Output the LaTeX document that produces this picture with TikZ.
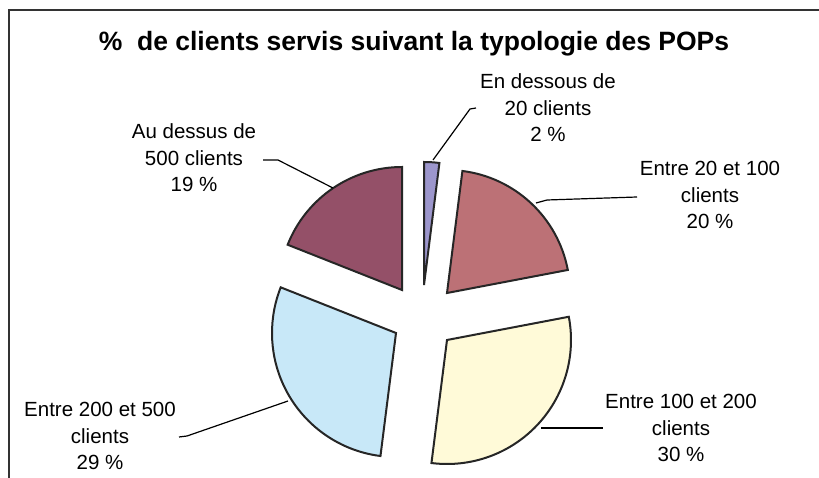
\documentclass[tikz,border=0pt]{standalone}
\usepackage{fontspec}
\setmainfont{Liberation Sans}
\definecolor{cplum}{HTML}{945068}
\definecolor{crose}{HTML}{BC7176}
\definecolor{clav}{HTML}{9C96CC}
\definecolor{cyel}{HTML}{FFFAD8}
\definecolor{csky}{HTML}{C8E8F8}
\tikzset{
  slice/.style={draw=black!85, line width=2pt, line join=miter},
  leader/.style={draw=black, line width=1.2pt},
  lab/.style={align=center, inner sep=0pt, font=\fontsize{20.5}{26.5}\selectfont},
  ttl/.style={inner sep=0pt, font=\fontsize{26.5}{30}\selectfont\bfseries},
  frame/.style={draw=black!80, line width=2.2pt}
}
\begin{document}
\begin{tikzpicture}[x=1pt,y=-1pt]
\useasboundingbox (0,0) rectangle (819,478);
\clip (0,0) rectangle (819,478);
\fill[white] (0,0) rectangle (819,478);
\draw[frame] (9,10) rectangle (840,500);
\node[ttl] (title) at (414,44) {\%\ \ de clients servis suivant la typologie des POPs};
% slices (angles clockwise from east on screen)
\coordinate (a2) at (424,285);
\coordinate (a20) at (447,293);
\coordinate (a30) at (447,340);
\coordinate (a29) at (396,333);
\coordinate (a19) at (402,290);
\filldraw[slice, fill=clav] (a2) -- ++(-90:123) arc[start angle=-90, end angle=-82.8, radius=123] -- cycle;
\filldraw[slice, fill=crose] (a20) -- ++(-82.8:123) arc[start angle=-82.8, end angle=-10.8, radius=123] -- cycle;
\filldraw[slice, fill=cyel] (a30) -- ++(-10.8:124) arc[start angle=-10.8, end angle=97.2, radius=124] -- cycle;
\filldraw[slice, fill=csky] (a29) -- ++(97.2:124) arc[start angle=97.2, end angle=201.6, radius=124] -- cycle;
\filldraw[slice, fill=cplum] (a19) -- ++(201.6:123) arc[start angle=201.6, end angle=270, radius=123] -- cycle;
% labels
\node[lab] (l2) at (548,108) {En dessous de\\20 clients\\2 \%};
\node[lab] (l20) at (710,195) {Entre 20 et 100\\clients\\20 \%};
\node[lab] (l19) at (194,158) {Au dessus de\\500 clients\\19 \%};
\node[lab] (l29) at (100,436) {Entre 200 et 500\\clients\\29 \%};
\node[lab] (l30) at (681,428) {Entre 100 et 200\\clients\\30 \%};
% leader lines
\coordinate (p2a) at (433,160);
\coordinate (p2b) at (470,109);
\coordinate (p2c) at (476,108);
\draw[leader] (p2a) -- (p2b) -- (p2c);
\coordinate (p20a) at (536,203);
\coordinate (p20b) at (547,200);
\coordinate (p20c) at (637,197);
\draw[leader] (p20a) -- (p20b) -- (p20c);
\coordinate (p30a) at (541,428);
\coordinate (p30b) at (603,428);
\draw[leader] (p30a) -- (p30b);
\coordinate (p29a) at (288,401);
\coordinate (p29b) at (187,436);
\coordinate (p29c) at (179,437);
\draw[leader] (p29a) -- (p29b) -- (p29c);
\coordinate (p19a) at (333,188);
\coordinate (p19b) at (278,160);
\coordinate (p19c) at (263,160);
\draw[leader] (p19a) -- (p19b) -- (p19c);
\end{tikzpicture}
\end{document}
